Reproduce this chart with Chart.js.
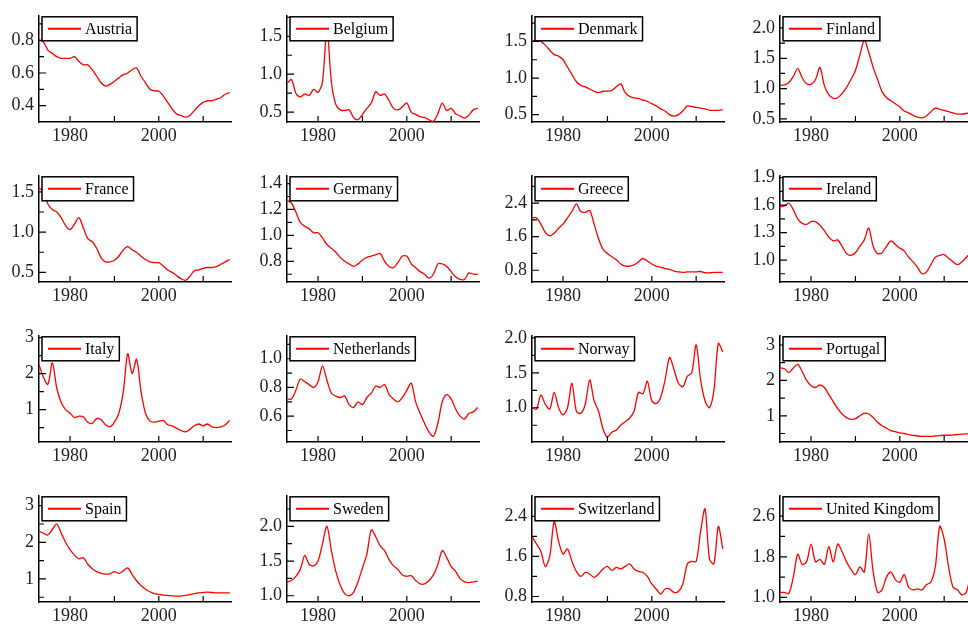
<!DOCTYPE html>
<html>
<head>
<meta charset="utf-8">
<script src="https://cdn.jsdelivr.net/npm/chart.js@4.4.0/dist/chart.umd.min.js"></script>
<style>
  body { margin: 0; background: #fff; }
  #wrap { position: relative; width: 968px; height: 632px; overflow: hidden; }
  .cell { position: absolute; width: 232px; height: 155px; }
</style>
</head>
<body>
<div id="wrap"></div>
<script>
// ============================
// Data
// ============================
const years = [];
for (let y = 1973; y <= 2016; y++) years.push(y);

const countries = ["Austria", "Belgium", "Denmark", "Finland", "France", "Germany", "Greece", "Ireland",
  "Italy", "Netherlands", "Norway", "Portugal", "Spain", "Sweden", "Switzerland", "United Kingdom"];

const austria = [0.80,0.79,0.74,0.72,0.70,0.69,0.69,0.69,0.70,0.67,0.65,0.65,0.62,0.58,0.54,0.52,0.53,0.55,0.57,0.59,0.60,0.62,0.63,0.58,0.54,0.50,0.49,0.49,0.46,0.42,0.38,0.35,0.34,0.33,0.34,0.37,0.40,0.42,0.43,0.43,0.44,0.45,0.47,0.48];
const belgium = [0.88,0.93,0.75,0.70,0.74,0.72,0.80,0.76,0.90,1.60,0.90,0.60,0.53,0.52,0.53,0.43,0.40,0.47,0.55,0.62,0.77,0.72,0.74,0.65,0.55,0.53,0.57,0.62,0.50,0.47,0.44,0.43,0.40,0.38,0.48,0.62,0.52,0.55,0.48,0.45,0.42,0.46,0.53,0.55];
const denmark = [1.50,1.52,1.50,1.45,1.38,1.32,1.30,1.25,1.15,1.05,0.95,0.90,0.88,0.85,0.82,0.80,0.82,0.82,0.83,0.88,0.92,0.80,0.75,0.73,0.72,0.70,0.68,0.65,0.62,0.58,0.55,0.50,0.48,0.50,0.55,0.62,0.61,0.60,0.59,0.58,0.56,0.56,0.56,0.57];
const finland = [1.05,1.06,1.10,1.20,1.33,1.18,1.08,1.07,1.15,1.35,1.05,0.90,0.84,0.85,0.92,1.02,1.15,1.30,1.55,1.80,1.60,1.35,1.15,0.95,0.85,0.80,0.75,0.70,0.63,0.60,0.56,0.53,0.52,0.55,0.62,0.68,0.66,0.64,0.62,0.60,0.58,0.58,0.59,0.61];
const france = [1.55,1.50,1.35,1.28,1.25,1.18,1.08,1.03,1.10,1.18,1.05,0.92,0.88,0.80,0.68,0.63,0.63,0.65,0.70,0.78,0.82,0.78,0.75,0.70,0.66,0.63,0.62,0.62,0.58,0.53,0.50,0.46,0.42,0.40,0.45,0.52,0.53,0.55,0.56,0.56,0.57,0.60,0.63,0.66];
const germany = [1.27,1.25,1.18,1.10,1.07,1.05,1.02,1.02,0.98,0.93,0.90,0.87,0.83,0.80,0.78,0.76,0.78,0.81,0.83,0.84,0.85,0.86,0.80,0.76,0.75,0.79,0.84,0.84,0.78,0.75,0.72,0.70,0.67,0.70,0.78,0.78,0.76,0.72,0.68,0.66,0.66,0.71,0.70,0.70];
const greece = [2.05,2.05,1.90,1.70,1.62,1.68,1.80,1.90,2.05,2.20,2.38,2.20,2.18,2.22,1.90,1.55,1.30,1.20,1.12,1.05,0.95,0.90,0.90,0.93,1.00,1.08,1.02,0.95,0.90,0.87,0.84,0.82,0.78,0.76,0.75,0.76,0.76,0.76,0.77,0.74,0.74,0.75,0.75,0.75];
const ireland = [1.58,1.59,1.62,1.55,1.45,1.40,1.39,1.42,1.42,1.38,1.32,1.25,1.21,1.22,1.15,1.07,1.05,1.08,1.15,1.22,1.35,1.15,1.07,1.08,1.15,1.21,1.17,1.13,1.10,1.03,0.98,0.92,0.85,0.87,0.95,1.03,1.05,1.06,1.02,0.98,0.95,0.98,1.03,1.08];
const italy = [2.25,1.90,1.70,2.30,1.60,1.20,1.00,0.90,0.78,0.82,0.80,0.65,0.62,0.75,0.72,0.58,0.52,0.65,0.90,1.50,2.55,2.00,2.40,1.50,0.90,0.68,0.65,0.68,0.70,0.58,0.55,0.48,0.42,0.38,0.45,0.55,0.60,0.55,0.60,0.52,0.50,0.52,0.58,0.70];
const netherlands = [0.72,0.72,0.78,0.86,0.84,0.82,0.80,0.84,0.95,0.85,0.76,0.74,0.73,0.74,0.68,0.66,0.70,0.68,0.73,0.76,0.81,0.80,0.82,0.75,0.72,0.70,0.73,0.78,0.83,0.70,0.62,0.55,0.49,0.46,0.55,0.70,0.75,0.72,0.65,0.60,0.58,0.62,0.63,0.66];
const norway = [1.00,0.98,1.18,1.05,0.98,1.22,1.00,0.90,1.00,1.35,0.95,0.92,1.05,1.40,1.10,0.95,0.70,0.58,0.65,0.68,0.75,0.80,0.85,0.95,1.22,1.20,1.38,1.10,1.06,1.15,1.40,1.72,1.55,1.35,1.30,1.45,1.50,1.90,1.40,1.10,1.00,1.25,1.92,1.80];
const portugal = [2.35,2.33,2.22,2.35,2.45,2.25,2.00,1.85,1.80,1.87,1.80,1.60,1.40,1.20,1.05,0.95,0.90,0.92,1.00,1.07,1.05,0.95,0.82,0.72,0.65,0.58,0.55,0.52,0.50,0.47,0.45,0.43,0.42,0.42,0.42,0.43,0.44,0.45,0.45,0.46,0.47,0.48,0.49,0.50];
const spain = [2.30,2.25,2.20,2.35,2.50,2.25,2.00,1.80,1.65,1.55,1.58,1.40,1.28,1.20,1.15,1.13,1.14,1.20,1.15,1.22,1.30,1.12,0.95,0.82,0.72,0.65,0.60,0.58,0.56,0.55,0.54,0.53,0.53,0.55,0.57,0.60,0.62,0.63,0.64,0.63,0.62,0.62,0.62,0.62];
const sweden = [1.20,1.22,1.28,1.38,1.58,1.45,1.43,1.50,1.75,2.00,1.65,1.35,1.15,1.03,1.00,1.05,1.20,1.40,1.60,1.95,1.85,1.72,1.65,1.52,1.43,1.38,1.30,1.28,1.29,1.22,1.17,1.17,1.22,1.30,1.45,1.65,1.55,1.42,1.35,1.25,1.20,1.19,1.20,1.21];
const switzerland = [2.00,1.85,1.70,1.40,1.60,2.30,1.90,1.65,1.75,1.50,1.30,1.20,1.28,1.25,1.18,1.25,1.35,1.40,1.32,1.38,1.35,1.40,1.45,1.35,1.30,1.28,1.20,1.05,0.95,0.85,0.95,0.95,0.88,0.90,1.05,1.45,1.50,1.50,2.10,2.55,1.55,1.45,2.20,1.75];
const uk = [1.10,1.10,1.08,1.40,1.85,1.65,1.70,2.05,1.70,1.75,1.65,2.00,1.70,2.05,1.90,1.70,1.55,1.45,1.60,1.50,2.25,1.50,1.10,1.15,1.40,1.50,1.35,1.30,1.45,1.20,1.15,1.17,1.15,1.25,1.30,1.60,2.40,2.15,1.60,1.20,1.15,1.05,1.10,1.50];

const series = [austria, belgium, denmark, finland, france, germany, greece, ireland,
  italy, netherlands, norway, portugal, spain, sweden, switzerland, uk];

// axis limits and ticks per panel
const yMin = [0.30,0.37,0.40,0.45, 0.38,0.64,0.52,0.76, 0.10,0.42,0.51,0.26, 0.37,0.91,0.69,0.91];
const yMax = [0.95,1.77,1.85,2.20, 1.70,1.46,3.05,1.92, 3.05,1.16,2.03,3.26, 3.27,2.44,2.81,3.00];
const yMajor = [
  [0.4,0.6,0.8],[0.5,1.0,1.5],[0.5,1.0,1.5],[0.5,1.0,1.5,2.0],
  [0.5,1.0,1.5],[0.8,1.0,1.2,1.4],[0.8,1.6,2.4],[1.0,1.3,1.6,1.9],
  [1,2,3],[0.6,0.8,1.0],[1.0,1.5,2.0],[1,2,3],
  [1,2,3],[1.0,1.5,2.0],[0.8,1.6,2.4],[1.0,1.8,2.6]
];
const yMinor = [
  [0.5,0.7,0.9],[0.75,1.25,1.75],[0.75,1.25,1.75],[0.75,1.25,1.75],
  [0.75,1.25],[0.7,0.9,1.1,1.3],[1.2,2.0,2.8],[0.85,1.15,1.45,1.75],
  [0.5,1.5,2.5],[0.5,0.7,0.9,1.1],[0.75,1.25,1.75],[0.5,1.5,2.5],
  [0.5,1.5,2.5],[1.25,1.75,2.25],[1.2,2.0],[1.4,2.2]
];
const xMajor = [1980, 2000];
const xMinor = [1990, 2010];

// ============================
// Layout
// ============================
const colLeft = [0, 248, 493, 741];
const rowTop = [0, 160, 320, 480];
const FONT = "'Liberation Serif', 'Times New Roman', serif";

// inward ticks + legend box inside the plot
const panelPlugin = {
  id: 'panelDeco',
  afterDraw(chart) {
    const ctx = chart.ctx;
    const a = chart.chartArea;
    const xs = chart.scales.x, ys = chart.scales.y;
    const o = chart.options.plugins.panelDeco;
    ctx.save();
    ctx.strokeStyle = '#000';
    ctx.lineWidth = 1.2;
    ctx.beginPath();
    xs.ticks.forEach(t => {
      const px = xs.getPixelForValue(t.value);
      ctx.moveTo(px, a.bottom); ctx.lineTo(px, a.bottom - 6);
    });
    ys.ticks.forEach(t => {
      const py = ys.getPixelForValue(t.value);
      const len = o.major.includes(t.value) ? 7 : 5;
      ctx.moveTo(a.left, py); ctx.lineTo(a.left + len, py);
    });
    ctx.stroke();

    // legend
    ctx.font = '16px ' + FONT;
    const tw = ctx.measureText(o.name).width;
    const bx = a.left + 3, by = a.top + 1, bw = 48 + tw, bh = 24;
    ctx.fillStyle = '#fff';
    ctx.fillRect(bx, by, bw, bh);
    ctx.strokeStyle = '#000';
    ctx.lineWidth = 1.5;
    ctx.strokeRect(bx, by, bw, bh);
    ctx.strokeStyle = '#ff0000';
    ctx.lineWidth = 2;
    ctx.beginPath();
    ctx.moveTo(bx + 6, by + bh / 2); ctx.lineTo(bx + 39, by + bh / 2);
    ctx.stroke();
    ctx.fillStyle = '#000';
    ctx.textBaseline = 'middle';
    ctx.fillText(o.name, bx + 43, by + bh / 2 + 1);
    ctx.restore();
  }
};

const wrap = document.getElementById('wrap');
countries.forEach((name, i) => {
  const div = document.createElement('div');
  div.className = 'cell';
  div.style.left = colLeft[i % 4] + 'px';
  div.style.top = rowTop[Math.floor(i / 4)] + 'px';
  const cv = document.createElement('canvas');
  div.appendChild(cv);
  wrap.appendChild(div);

  new Chart(cv, {
    type: 'line',
    data: {
      labels: years,
      datasets: [{
        data: years.map((y, k) => ({ x: y, y: series[i][k] })),
        borderColor: '#ff0000',
        borderWidth: 1.3,
        pointRadius: 0,
        tension: 0.3,
        fill: false
      }]
    },
    options: {
      responsive: true,
      maintainAspectRatio: false,
      animation: false,
      layout: { padding: { top: 5, right: 0 } },
      plugins: {
        legend: { display: false },
        tooltip: { enabled: false },
        panelDeco: { name, major: yMajor[i] }
      },
      scales: {
        x: {
          type: 'linear', min: 1973, max: 2016.5,
          afterBuildTicks: s => { s.ticks = [...xMajor, ...xMinor].map(v => ({ value: v })); },
          afterFit: s => { s.height = 33; },
          ticks: {
            autoSkip: false, maxRotation: 0, padding: 3,
            color: '#222', font: { family: FONT, size: 18 },
            callback: v => xMajor.includes(v) ? String(v) : ''
          },
          grid: { display: false, drawTicks: false, tickLength: 0 },
          border: { color: '#000', width: 1.5 }
        },
        y: {
          min: yMin[i], max: yMax[i],
          afterBuildTicks: s => { s.ticks = [...yMajor[i], ...yMinor[i]].map(v => ({ value: v })); },
          afterFit: s => { s.width = 39; },
          ticks: {
            autoSkip: false, padding: 5,
            color: '#222', font: { family: FONT, size: 18 },
            callback: v => yMajor[i].includes(v) ? (i === 8 || i === 11 || i === 12 ? String(v) : v.toFixed(1)) : ''
          },
          grid: { display: false, drawTicks: false, tickLength: 0 },
          border: { color: '#000', width: 1.5 }
        }
      }
    },
    plugins: [panelPlugin]
  });
});
</script>
</body>
</html>
